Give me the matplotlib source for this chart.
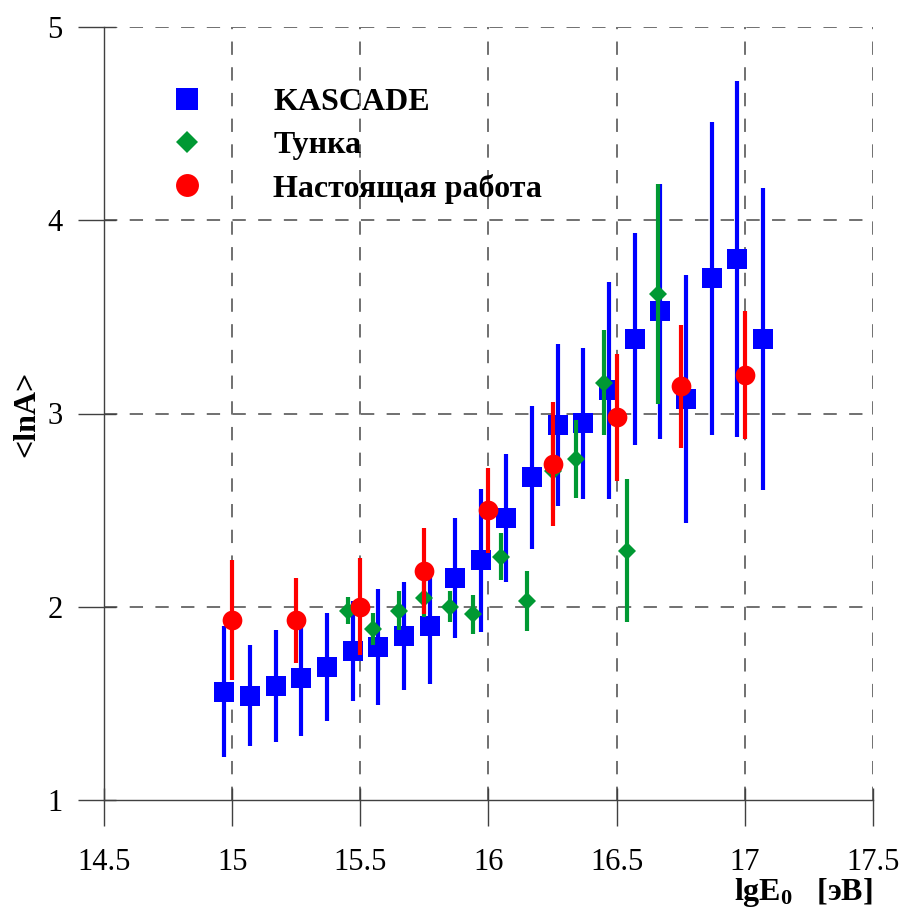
import matplotlib
matplotlib.use("Agg")
import matplotlib.pyplot as plt
from matplotlib.lines import Line2D
from matplotlib.ticker import FixedLocator

plt.rcParams['font.family'] = ['Liberation Serif', 'DejaVu Serif']
plt.rcParams['mathtext.fontset'] = 'custom'
plt.rcParams['mathtext.rm'] = 'Liberation Serif:bold'
plt.rcParams['mathtext.it'] = 'Liberation Serif:bold'
plt.rcParams['mathtext.bf'] = 'Liberation Serif:bold'
plt.rcParams['lines.scale_dashes'] = False

# KASCADE
kascade_x = [14.97, 15.07, 15.17, 15.27, 15.37, 15.47, 15.57, 15.67, 15.77, 15.87, 15.97,
             16.07, 16.17, 16.27, 16.37, 16.47, 16.57, 16.67, 16.77, 16.87, 16.97, 17.07]
kascade_y = [1.56, 1.54, 1.59, 1.63, 1.69, 1.77, 1.79, 1.85, 1.90, 2.15, 2.24,
             2.46, 2.67, 2.94, 2.95, 3.12, 3.385, 3.53, 3.075, 3.70, 3.80, 3.385]
kascade_err = [0.34, 0.26, 0.29, 0.30, 0.28, 0.26, 0.30, 0.28, 0.30, 0.31, 0.37,
               0.33, 0.37, 0.42, 0.39, 0.56, 0.55, 0.66, 0.64, 0.81, 0.92, 0.78]

# Тунка
tunka_x = [15.45, 15.55, 15.65, 15.75, 15.85, 15.94, 16.05, 16.15, 16.25, 16.34, 16.45, 16.54, 16.66]
tunka_y = [1.98, 1.885, 1.98, 2.045, 2.00, 1.96, 2.26, 2.03, 2.70, 2.765, 3.16, 2.29, 3.62]
tunka_err = [0.07, 0.085, 0.10, 0.10, 0.08, 0.10, 0.12, 0.155, 0.20, 0.20, 0.27, 0.37, 0.57]

# Настоящая работа
work_x = [15.0, 15.25, 15.5, 15.75, 16.0, 16.25, 16.5, 16.75, 17.0]
work_y = [1.93, 1.93, 2.00, 2.185, 2.50, 2.74, 2.98, 3.14, 3.20]
work_err = [0.31, 0.22, 0.25, 0.225, 0.22, 0.32, 0.33, 0.32, 0.33]

labels = ['KASCADE', 'Тунка', 'Настоящая работа']
x_ticks = [14.5, 15, 15.5, 16, 16.5, 17, 17.5]
x_ticklabels = ['14.5', '15', '15.5', '16', '16.5', '17', '17.5']
y_ticks = [1, 2, 3, 4, 5]

BLUE = '#0000ff'
GREEN = '#009933'
RED = '#ff0000'
GRID_STYLE = dict(color='#707070', linewidth=1.4, linestyle=(0, (9.6, 8.9)), zorder=0.5)

fig = plt.figure(figsize=(9.04, 9.10), dpi=100)
ax = fig.add_axes([104 / 904, 110 / 910, 769 / 904, 773 / 910])

ax.errorbar(kascade_x, kascade_y, yerr=kascade_err, fmt='s', color=BLUE, ms=13.7,
            elinewidth=3, capsize=0, mew=0, zorder=3)
ax.errorbar(tunka_x, tunka_y, yerr=tunka_err, fmt='D', color=GREEN, ms=9.3,
            elinewidth=3, capsize=0, mew=0, zorder=4)
ax.errorbar(work_x, work_y, yerr=work_err, fmt='o', color=RED, ms=14.2,
            elinewidth=3, capsize=0, mew=0, zorder=5)

ax.set_xlim(14.5, 17.5)
ax.set_ylim(1, 5)

# dashed grid, skipping the lines that would sit on the axes
for v in x_ticks[1:]:
    ax.axvline(v, **GRID_STYLE)
for v in y_ticks[1:]:
    ax.axhline(v, **GRID_STYLE)

for spine in ['top', 'right']:
    ax.spines[spine].set_visible(False)
for spine in ['left', 'bottom']:
    ax.spines[spine].set_color('#404040')
    ax.spines[spine].set_linewidth(1.0)

ax.set_xticks(x_ticks)
ax.set_xticklabels(x_ticklabels)
ax.set_yticks(y_ticks)
ax.xaxis.remove_overlapping_locs = False
ax.yaxis.remove_overlapping_locs = False
ax.xaxis.set_minor_locator(FixedLocator(x_ticks))
ax.yaxis.set_minor_locator(FixedLocator(y_ticks))
ax.tick_params(which='major', direction='out', length=18.7, width=1.0, color='#404040',
               labelsize=22)
ax.tick_params(which='minor', direction='in', length=8.6, width=1.0, color='#404040')
ax.tick_params(axis='x', which='major', pad=16)
ax.tick_params(axis='y', which='major', pad=11)

ax.set_ylabel('<lnA>', fontsize=23, fontweight='bold', labelpad=4.5)
ax.set_xlabel(r'lg$\mathrm{E}_\mathrm{0}$   [эВ]', fontsize=23, fontweight='bold')
ax.xaxis.set_label_coords(1.0, -0.098)
ax.xaxis.label.set_ha('right')

handles = [
    Line2D([], [], linestyle='none', marker='s', color=BLUE, ms=16.5, mew=0),
    Line2D([], [], linestyle='none', marker='D', color=GREEN, ms=11.5, mew=0),
    Line2D([], [], linestyle='none', marker='o', color=RED, ms=16.5, mew=0),
]
leg = ax.legend(handles, labels, loc='upper left', bbox_to_anchor=(0.087, 0.921),
                frameon=False, borderaxespad=0, borderpad=0, handlelength=1.0,
                handletextpad=2.2, labelspacing=0.42,
                prop={'family': 'Liberation Serif', 'weight': 'bold', 'size': 23})

fig.savefig('out.png', dpi=100)
